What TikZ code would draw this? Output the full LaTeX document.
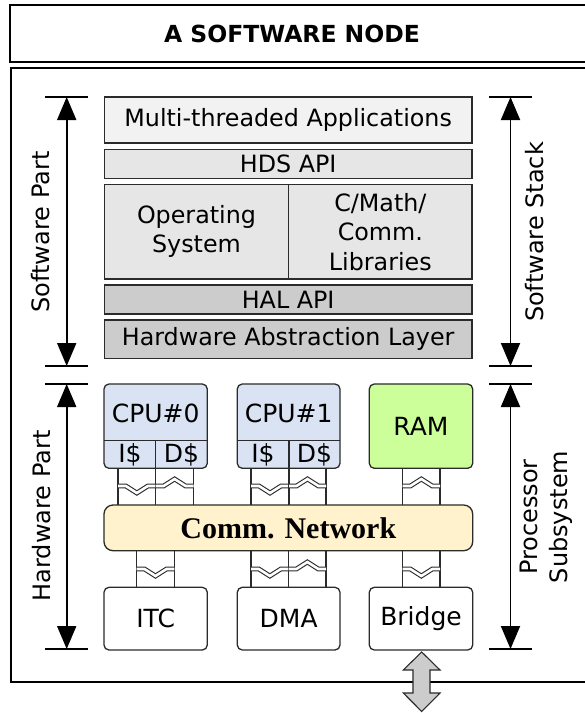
\documentclass[tikz,border=0pt]{standalone}
\usepackage{fontspec}
\setmainfont{DejaVu Sans}
\newfontfamily\netfont{Liberation Serif}
\usetikzlibrary{arrows.meta}
\definecolor{appgray}{HTML}{F2F2F2}
\definecolor{midgray}{HTML}{E6E6E6}
\definecolor{darkgray}{HTML}{CCCCCC}
\definecolor{cpublue}{HTML}{DAE3F3}
\definecolor{ramgreen}{HTML}{CCFF99}
\definecolor{netyellow}{HTML}{FFF2CC}
\definecolor{edge}{HTML}{2B2B2B}
\newcommand\swfont{\fontsize{23.8pt}{29.5pt}\selectfont}
\newcommand\hwfont{\fontsize{25pt}{30pt}\selectfont}
% link column: x1, x2, ytop, ybot, ymid, dir (1 = V down, -1 = peak up)
\newcommand\linkcol[6]{%
  \fill[white] (#1,#3) rectangle (#2,#4);
  \draw[edge, line width=1.2pt] (#1,#3) -- (#1,#4) (#2,#3) -- (#2,#4);
  \draw[edge, line width=1.1pt, double=white, double distance=2.6pt, line join=miter]
    (#1,#5) -- ({(#1+#2)/2-11},#5) -- ({(#1+#2)/2},{#5+7*#6}) -- ({(#1+#2)/2+11},#5) -- (#2,#5);
}
\tikzset{
  outerbox/.style={draw=black, line width=2.6pt},
  layer/.style={draw=edge, line width=1.3pt, inner sep=0pt, font=\swfont, align=center},
  hwbox/.style={draw=edge, line width=1.3pt, rounded corners=5pt, inner sep=0pt},
  hwtext/.style={font=\hwfont, inner sep=0pt},
  tickline/.style={line width=1.8pt},
  dimarrow/.style={line width=1.9pt, {Triangle[length=23pt,width=19pt]}-{Triangle[length=23pt,width=19pt]}},
  sidelabel/.style={font=\fontsize{24pt}{30pt}\selectfont, rotate=90, align=center, inner sep=0pt}
}
\begin{document}
\begin{tikzpicture}[x=1pt,y=-1pt]
\clip (0,0) rectangle (585,713);
\fill[white] (0,0) rectangle (585,713);

% outer boxes
\draw[outerbox] (10,5) rectangle (620,62);
\node[font=\bfseries\fontsize{23.5pt}{28pt}\selectfont] (title) at (292,34) {A SOFTWARE NODE};
\draw[outerbox] (11,68) rectangle (620,682);

% software layers
\node[layer, fill=appgray, minimum width=367.7pt, minimum height=46pt] (app) at (288.15,120) {Multi-threaded Applications};
\node[layer, fill=midgray, minimum width=367.7pt, minimum height=29pt] (hds) at (288.15,163.8) {HDS API};
\node[layer, fill=midgray, minimum width=184.4pt, minimum height=94.7pt] (os) at (196.5,231.65) {Operating\\System};
\node[layer, fill=midgray, minimum width=183.3pt, minimum height=94.7pt] (lib) at (380.35,231.65) {C/Math/\\Comm.\\Libraries};
\node[layer, fill=darkgray, minimum width=367.7pt, minimum height=29pt] (halapi) at (288.15,299.5) {HAL API};
\node[layer, fill=darkgray, minimum width=367.7pt, minimum height=38.3pt] (hal) at (288.15,339.2) {Hardware Abstraction Layer};

% link columns (top)
\linkcol{118}{155.7}{468.3}{505}{486}{1}
\linkcol{155.7}{193.5}{468.3}{505}{486}{-1}
\linkcol{251}{289}{468.3}{505}{486}{1}
\linkcol{289}{326}{468.3}{505}{486}{-1}
\linkcol{402.7}{440}{468.3}{505}{486}{-1}
% link columns (bottom)
\linkcol{136.7}{174.3}{550.7}{587.3}{569}{1}
\linkcol{251}{288.7}{550.7}{587.3}{569}{1}
\linkcol{288.7}{326}{550.7}{587.3}{569}{-1}
\linkcol{402.7}{440}{550.7}{587.3}{569}{1}

% CPUs
\node[hwbox, fill=cpublue, minimum width=103.3pt, minimum height=84.3pt] (cpu0) at (155.65,426.15) {};
\draw[edge, line width=1.3pt] (104,440.7) -- (207.3,440.7) (155.7,440.7) -- (155.7,468.3);
\node[hwtext] (cpu0t) at (155.7,413) {CPU\#0};
\node[hwtext] (cpu0i) at (130,455) {I\$};
\node[hwtext] (cpu0d) at (181.5,455) {D\$};

\node[hwbox, fill=cpublue, minimum width=102.7pt, minimum height=84.3pt] (cpu1) at (288.65,426.15) {};
\draw[edge, line width=1.3pt] (237.3,440.7) -- (340,440.7) (289,440.7) -- (289,468.3);
\node[hwtext] (cpu1t) at (288.65,413) {CPU\#1};
\node[hwtext] (cpu1i) at (263,455) {I\$};
\node[hwtext] (cpu1d) at (314.5,455) {D\$};

\node[hwbox, fill=ramgreen, minimum width=103.4pt, minimum height=84.3pt, font=\hwfont] (ram) at (421,426.15) {RAM};

% network
\node[hwbox, rounded corners=9pt, fill=netyellow, minimum width=368.7pt, minimum height=45.7pt,
      font=\netfont\bfseries\fontsize{30pt}{34pt}\selectfont] (net) at (288.35,527.85) {Comm. Network};

% peripherals
\node[hwbox, fill=white, minimum width=103.3pt, minimum height=62.7pt, font=\hwfont] (itc) at (155.65,618.65) {ITC};
\node[hwbox, fill=white, minimum width=102.7pt, minimum height=62.7pt, font=\hwfont] (dma) at (288.65,618.65) {DMA};
\node[hwbox, fill=white, minimum width=103.4pt, minimum height=62.7pt, font=\hwfont] (bridge) at (421,618.65) {Bridge};

% external double arrow
\filldraw[fill=darkgray, draw=edge, line width=1.1pt, line join=miter]
  (421.7,652) -- (440,670) -- (430,670) -- (430,693) -- (440,693) -- (421.7,711.5)
  -- (403.3,693) -- (413,693) -- (413,670) -- (403.3,670) -- cycle;

% dimension markers left
\coordinate (lt1) at (66.7,97);  \coordinate (lt2) at (66.7,366);
\coordinate (lt3) at (66.7,384); \coordinate (lt4) at (66.7,649);
\draw[tickline] (45,97) -- (88,97) (45,366) -- (88,366) (45,384) -- (88,384) (45,649) -- (88,649);
\draw[dimarrow] (lt1) -- (lt2);
\draw[dimarrow] (lt3) -- (lt4);
\node[sidelabel] (swpart) at (41,232) {Software Part};
\node[sidelabel] (hwpart) at (42,516) {Hardware Part};

% dimension markers right
\coordinate (rt1) at (510.5,97);  \coordinate (rt2) at (510.5,366);
\coordinate (rt3) at (510.5,384); \coordinate (rt4) at (510.5,649);
\draw[tickline] (489,97) -- (532,97) (489,366) -- (532,366) (489,384) -- (532,384) (489,649) -- (532,649);
\draw[dimarrow] (rt1) -- (rt2);
\draw[dimarrow] (rt3) -- (rt4);
\node[sidelabel] (swstack) at (535,232) {Software Stack};
\node[sidelabel] (procsub) at (546,517) {Processor\\Subsystem};
\end{tikzpicture}
\end{document}
